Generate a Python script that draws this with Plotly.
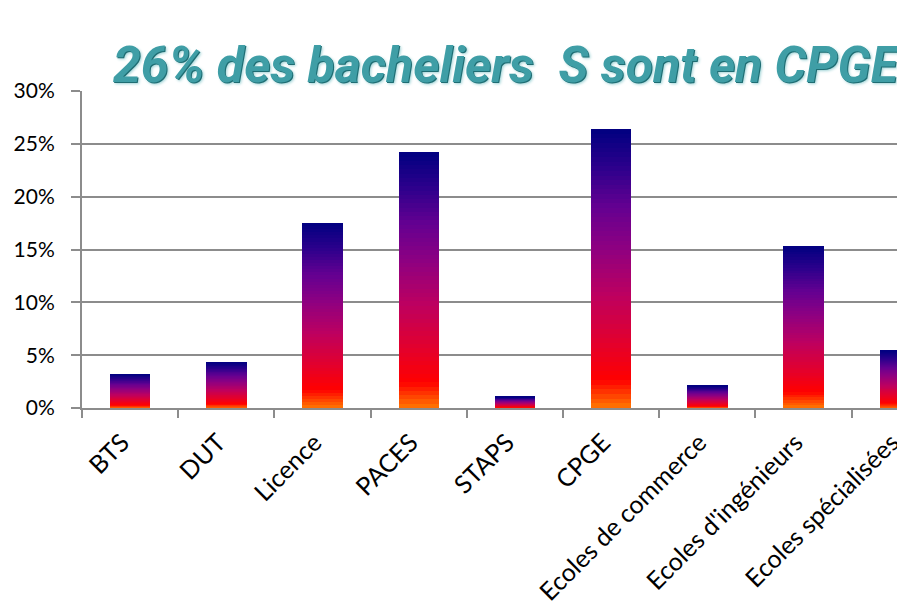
import plotly.graph_objects as go

categories = ["BTS", "DUT", "Licence", "PACES", "STAPS", "CPGE",
              "Ecoles de commerce", "Ecoles d'ingénieurs", "Ecoles spécialisées"]
values = [0.032, 0.0435, 0.175, 0.242, 0.0105, 0.264, 0.021, 0.153, 0.054]
y_ticks = [0, 0.05, 0.10, 0.15, 0.20, 0.25, 0.30]
title_text = "26% des bacheliers  S sont en CPGE"

# vertical gradient (bottom -> top) used to colour each bar
gradient = [
    (0.00, (255, 120, 0)),
    (0.10, (255, 0, 0)),
    (0.22, (230, 0, 40)),
    (0.40, (190, 0, 95)),
    (0.58, (140, 0, 130)),
    (0.72, (100, 0, 145)),
    (0.86, (45, 0, 140)),
    (1.00, (0, 0, 128)),
]

def color_at(t):
    for (p0, c0), (p1, c1) in zip(gradient[:-1], gradient[1:]):
        if p0 <= t <= p1:
            f = (t - p0) / (p1 - p0) if p1 > p0 else 0
            r, g, b = (round(a + (b_ - a) * f) for a, b_ in zip(c0, c1))
            return f"rgb({r},{g},{b})"
    return "rgb(0,0,128)"

N = 60
fig = go.Figure()
for i in range(N):
    t = (i + 0.5) / N
    fig.add_trace(go.Bar(
        x=categories,
        y=[v / N for v in values],
        marker=dict(color=color_at(t), line=dict(width=0)),
        width=0.42,
        hoverinfo="skip",
        showlegend=False,
    ))

grid_col = "#8c8c8c"
fig.update_layout(
    width=905, height=606,
    barmode="stack",
    plot_bgcolor="white", paper_bgcolor="white",
    margin=dict(l=74, r=8, t=83, b=206),
    font=dict(family="Lato, Open Sans, sans-serif", size=20, color="black"),
    xaxis=dict(
        range=[-0.5, 8.055],
        automargin=False,
        tickangle=-45,
        tickson="boundaries",
        ticks="outside", ticklen=8, tickwidth=2, tickcolor=grid_col,
        ticklabelstandoff=8,
        ticklabelshift=-8,
        showline=True, linecolor=grid_col, linewidth=2,
        showgrid=False,
        tickfont=dict(size=25),
    ),
    yaxis=dict(
        range=[0, 0.30],
        automargin=False,
        tickvals=y_ticks,
        tickformat=".0%",
        ticks="outside", ticklen=9, tickwidth=2, tickcolor=grid_col,
        ticklabelstandoff=12,
        showline=True, linecolor=grid_col, linewidth=2,
        showgrid=True, gridcolor=grid_col, gridwidth=2,
        zeroline=False,
        tickfont=dict(size=21),
    ),
    annotations=[dict(
        text=title_text,
        xref="paper", yref="paper",
        x=(499 - 74) / 823, y=1 + 26 / 317, xanchor="center", yanchor="middle",
        showarrow=False,
        font=dict(family="Roboto, sans-serif",
                  size=50, color="#3f9ea6", style="italic", weight="bold",
                  shadow="1px 1px 0px #1f6d73, 2px 2px 3px #9fd3d6"),
    )],
)

fig.write_html("out.html")
